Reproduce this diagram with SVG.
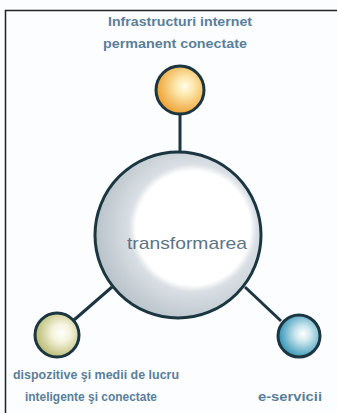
<svg xmlns="http://www.w3.org/2000/svg" width="337" height="413" viewBox="0 0 337 413">
<defs>
<radialGradient id="gMain" gradientUnits="userSpaceOnUse" cx="193" cy="228" r="100">
<stop offset="0" stop-color="#ffffff"/>
<stop offset="0.57" stop-color="#ffffff"/>
<stop offset="0.64" stop-color="#d9dfe4"/>
<stop offset="1" stop-color="#b7c1c9"/>
</radialGradient>
<radialGradient id="gOrange" cx="0.6" cy="0.42" r="0.6">
<stop offset="0" stop-color="#fffbea"/>
<stop offset="0.3" stop-color="#fde9b0"/>
<stop offset="1" stop-color="#eea232"/>
</radialGradient>
<radialGradient id="gGreen" cx="0.6" cy="0.45" r="0.6">
<stop offset="0" stop-color="#ffffff"/>
<stop offset="0.35" stop-color="#f4f3dc"/>
<stop offset="1" stop-color="#b7b86e"/>
</radialGradient>
<radialGradient id="gBlue" cx="0.6" cy="0.45" r="0.6">
<stop offset="0" stop-color="#ffffff"/>
<stop offset="0.3" stop-color="#cfe8f0"/>
<stop offset="1" stop-color="#2f93b4"/>
</radialGradient>
</defs>
<style>
.lbl{font-family:"Liberation Sans",Arial,sans-serif;font-size:13px;font-weight:bold;fill:#5a7f99;text-anchor:middle}
.main{font-family:"Liberation Sans",Arial,sans-serif;font-size:17px;fill:#5d7484;text-anchor:middle}
.ring{stroke:#1b3640;stroke-width:3}
.conn{stroke:#1b3640;stroke-width:3;fill:none}
</style>
<rect x="0" y="0" width="337" height="413" fill="#fcfdff"/>
<path d="M5.5,413 V10.5 H337" fill="none" stroke="#222" stroke-width="1.5"/>
<g id="connectors">
<line class="conn" x1="180" y1="114" x2="180" y2="152"/>
<line class="conn" x1="74" y1="320" x2="112" y2="287"/>
<line class="conn" x1="245" y1="287" x2="281" y2="321"/>
</g>
<g id="transformarea">
<circle class="ring" cx="178" cy="235" r="83" fill="url(#gMain)"/>
<text class="main" x="187" y="249" textLength="120" lengthAdjust="spacingAndGlyphs">transformarea</text>
</g>
<g id="infrastructuri">
<circle class="ring" cx="180" cy="90" r="24" fill="url(#gOrange)"/>
<text class="lbl" x="180" y="26" textLength="144" lengthAdjust="spacingAndGlyphs">Infrastructuri internet</text>
<text class="lbl" x="175" y="48" textLength="144" lengthAdjust="spacingAndGlyphs">permanent conectate</text>
</g>
<g id="dispozitive">
<circle class="ring" cx="57" cy="335" r="22" fill="url(#gGreen)"/>
<text class="lbl" x="96" y="379" textLength="166" lengthAdjust="spacingAndGlyphs">dispozitive şi medii de lucru</text>
<text class="lbl" x="91" y="401" textLength="132" lengthAdjust="spacingAndGlyphs">inteligente şi conectate</text>
</g>
<g id="eservicii">
<circle class="ring" cx="299" cy="336" r="21" fill="url(#gBlue)"/>
<text class="lbl" x="290" y="401" textLength="64" lengthAdjust="spacingAndGlyphs">e-servicii</text>
</g>
</svg>
